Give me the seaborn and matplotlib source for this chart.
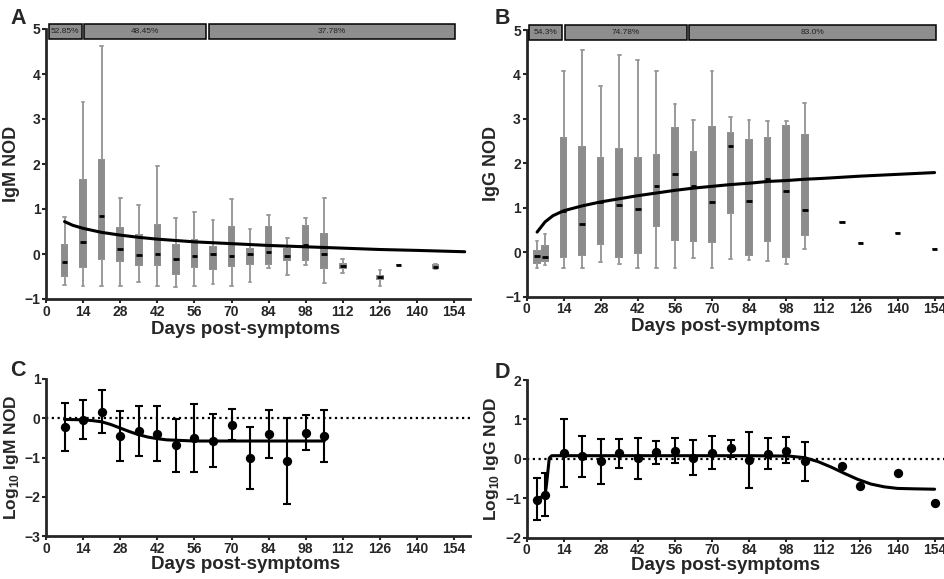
import numpy as np
import pandas as pd
import matplotlib
matplotlib.use("Agg")
import matplotlib.pyplot as plt
from matplotlib.patches import Rectangle
import seaborn as sns

# ---- data ----
# Panel A: IgM NOD five-number summaries per day
igm_days = [7, 14, 21, 28, 35, 42, 49, 56, 63, 70, 77, 84, 91, 98, 105, 112, 126, 133, 147]
igm_low = [-0.69, -0.71, -0.70, -0.71, -0.63, -0.71, -0.74, -0.72, -0.66, -0.72, -0.62, -0.31, -0.46, -0.24, -0.65, -0.43, -0.70, -0.25, -0.34]
igm_q1 = [-0.48, -0.28, -0.11, -0.15, -0.25, -0.25, -0.45, -0.29, -0.34, -0.27, -0.23, -0.22, -0.14, -0.13, -0.31, -0.30, -0.56, -0.25, -0.31]
igm_med = [-0.18, 0.26, 0.84, 0.11, -0.03, 0.01, -0.10, -0.04, -0.01, -0.05, 0.00, 0.04, -0.05, 0.20, -0.01, -0.26, -0.52, -0.25, -0.28]
igm_q3 = [0.19, 1.65, 2.08, 0.57, 0.42, 0.65, 0.19, 0.31, 0.15, 0.60, 0.12, 0.60, 0.12, 0.63, 0.44, -0.22, -0.48, -0.25, -0.25]
igm_high = [0.83, 3.37, 4.62, 1.24, 1.09, 1.96, 0.79, 0.93, 0.75, 1.22, 0.55, 0.86, 0.36, 0.81, 1.24, -0.10, -0.36, -0.25, -0.23]
igm_fit_days = [7, 10, 14, 21, 28, 35, 42, 49, 56, 63, 70, 84, 98, 112, 126, 140, 158]
igm_fit = [0.72, 0.64, 0.57, 0.48, 0.42, 0.37, 0.33, 0.30, 0.27, 0.25, 0.23, 0.19, 0.16, 0.13, 0.10, 0.08, 0.05]
igm_pct = ["52.85%", "48.45%", "37.78%"]

# Panel B: IgG NOD five-number summaries per day
igg_days = [4, 7, 14, 21, 28, 35, 42, 49, 56, 63, 70, 77, 84, 91, 98, 105, 119, 126, 140, 154]
igg_low = [-0.36, -0.28, -0.36, -0.36, -0.22, -0.26, -0.36, -0.36, -0.36, -0.13, -0.36, -0.16, -0.18, -0.21, -0.26, 0.07, 0.68, 0.21, 0.44, 0.08]
igg_q1 = [-0.25, -0.19, -0.11, -0.07, 0.19, -0.12, -0.02, 0.59, 0.28, 0.24, 0.22, 0.87, -0.06, 0.24, -0.10, 0.38, 0.68, 0.21, 0.44, 0.08]
igg_med = [-0.09, -0.11, 0.93, 0.64, 1.12, 1.06, 0.98, 1.48, 1.76, 1.49, 1.12, 2.39, 1.16, 1.65, 1.38, 0.95, 0.68, 0.21, 0.44, 0.08]
igg_q3 = [0.02, 0.14, 2.57, 2.37, 2.12, 2.31, 2.12, 2.18, 2.80, 2.25, 2.81, 2.67, 2.52, 2.56, 2.83, 2.64, 0.68, 0.21, 0.44, 0.08]
igg_high = [0.24, 0.40, 4.08, 4.56, 3.75, 4.43, 4.32, 4.08, 3.33, 2.97, 4.08, 3.05, 2.97, 2.94, 2.96, 3.36, 0.68, 0.21, 0.44, 0.08]
igg_fit_days = [4, 7, 10, 14, 21, 28, 35, 42, 49, 56, 63, 70, 77, 84, 91, 98, 105, 112, 126, 140, 154]
igg_fit = [0.45, 0.68, 0.82, 0.93, 1.04, 1.13, 1.20, 1.27, 1.33, 1.39, 1.44, 1.48, 1.52, 1.55, 1.59, 1.61, 1.64, 1.66, 1.71, 1.75, 1.79]
igg_pct = ["54.3%", "74.78%", "83.0%"]

# time windows of the percentage bars (days)
win_start = [1, 14.5, 61.5]
win_end = [13.5, 60.5, 154.5]

# Panel C: log10 IgM NOD mean with error range
c_days = [7, 14, 21, 28, 35, 42, 49, 56, 63, 70, 77, 84, 91, 98, 105]
c_mean = [-0.23, -0.04, 0.15, -0.46, -0.33, -0.39, -0.69, -0.50, -0.58, -0.16, -1.02, -0.41, -1.10, -0.37, -0.45]
c_upper = [0.38, 0.46, 0.71, 0.18, 0.31, 0.30, -0.01, 0.37, 0.12, 0.24, -0.22, 0.21, 0.00, 0.08, 0.21]
c_lower = [-0.83, -0.53, -0.37, -1.08, -0.95, -1.08, -1.36, -1.36, -1.25, -0.55, -1.80, -1.02, -2.19, -0.81, -1.11]
c_fit_days = [7, 14, 17.5, 21, 24.5, 28, 31.5, 35, 38.5, 42, 45.5, 49, 56, 70, 84, 105]
c_fit = [-0.03, -0.04, -0.06, -0.09, -0.16, -0.25, -0.34, -0.42, -0.48, -0.52, -0.55, -0.56, -0.58, -0.58, -0.58, -0.58]

# Panel D: log10 IgG NOD mean with error range
d_days = [4, 7, 14, 21, 28, 35, 42, 49, 56, 63, 70, 77, 84, 91, 98, 105]
d_mean = [-1.04, -0.92, 0.15, 0.08, -0.05, 0.14, 0.01, 0.17, 0.21, 0.03, 0.15, 0.28, -0.03, 0.12, 0.21, -0.05]
d_upper = [-0.49, -0.36, 1.00, 0.59, 0.51, 0.51, 0.53, 0.46, 0.53, 0.47, 0.57, 0.48, 0.68, 0.52, 0.55, 0.43]
d_lower = [-1.55, -1.46, -0.72, -0.45, -0.63, -0.24, -0.50, -0.14, -0.11, -0.41, -0.27, 0.04, -0.74, -0.27, -0.10, -0.57]
d_single_days = [119, 126, 140, 154]
d_single = [-0.17, -0.68, -0.37, -1.12]
d_fit_days = [4, 7, 7.6, 8.6, 9.5, 14, 28, 56, 84, 99, 105, 110, 115, 120, 125, 130, 135, 140, 146, 154]
d_fit = [-1.00, -0.94, -0.62, 0.02, 0.08, 0.08, 0.08, 0.08, 0.08, 0.07, 0.03, -0.07, -0.21, -0.37, -0.52, -0.64, -0.71, -0.75, -0.76, -0.77]

xticks = list(range(0, 155, 14))

# ---- style ----
sns.set_style("ticks")
plt.rcParams["font.family"] = ["Liberation Sans", "DejaVu Sans"]
plt.rcParams["font.weight"] = "bold"
plt.rcParams["mathtext.fontset"] = "custom"
plt.rcParams["mathtext.rm"] = "Liberation Sans:bold"
plt.rcParams["mathtext.bf"] = "Liberation Sans:bold"

BOX_GRAY = "#8c8c8c"
WHISK_GRAY = "#9a9a9a"

fig = plt.figure(figsize=(9.44, 5.79), dpi=100)
W, H = 944, 579
axA = fig.add_axes([46 / W, 1 - 299 / H, 424 / W, 270 / H])
axB = fig.add_axes([526.5 / W, 1 - 296.5 / H, 424 / W, 266.5 / H])
axC = fig.add_axes([46 / W, 1 - 536 / H, 424 / W, 157 / H])
axD = fig.add_axes([526.5 / W, 1 - 537.7 / H, 424 / W, 157.7 / H])


def five_num_frame(days, low, q1, med, q3, high):
    rows = []
    for i, d in enumerate(days):
        for v in (low[i], q1[i], med[i], q3[i], high[i]):
            rows.append({"day": d, "nod": v})
    return pd.DataFrame(rows)


def style_axis(ax, ylim, yticks):
    ax.set_xlim(0, 160)
    ax.set_ylim(*ylim)
    ax.set_xticks(xticks)
    ax.set_yticks(yticks)
    sns.despine(ax=ax)
    for s in ("left", "bottom"):
        ax.spines[s].set_linewidth(2)
    ax.tick_params(width=1.5, length=3, pad=1, labelsize=10)
    for lab in ax.get_xticklabels() + ax.get_yticklabels():
        lab.set_fontweight("bold")


def box_panel(ax, df, width, fit_x, fit_y, pcts, ylab):
    sns.boxplot(data=df, x="day", y="nod", native_scale=True, orient="x",
                whis=(0, 100), width=width, color=BOX_GRAY, saturation=1,
                linecolor=WHISK_GRAY, linewidth=1.4, fliersize=0, ax=ax,
                boxprops=dict(facecolor=BOX_GRAY, edgecolor=BOX_GRAY),
                medianprops=dict(color="black", linewidth=2))
    sns.lineplot(x=fit_x, y=fit_y, color="black", linewidth=2.2, ax=ax, zorder=5)
    for s, e, t in zip(win_start, win_end, pcts):
        ax.add_patch(Rectangle((s, 4.77), e - s, 0.34, facecolor="#8e8e8e",
                               edgecolor="black", linewidth=1.1, clip_on=False, zorder=6))
        ax.text((s + e) / 2, 4.94, t, ha="center", va="center", fontsize=6,
                fontweight="normal", color="#222222", zorder=7, clip_on=False)
    style_axis(ax, (-1, 5), range(-1, 6))
    ax.set_xlabel("Days post-symptoms", fontsize=13.5, fontweight="bold")
    ax.set_ylabel(ylab, fontsize=13, fontweight="bold")
    ax.yaxis.set_label_coords(-0.062, 0.5)
    ax.xaxis.set_label_coords(0.47, -0.08)


def mean_panel(ax, days, mean, upper, lower, fit_x, fit_y, ylim, yticks, ylab):
    ax.axhline(0, color="black", linestyle=(0, (1, 1.6)), linewidth=1.6, zorder=1)
    err = [np.array(mean) - np.array(lower), np.array(upper) - np.array(mean)]
    ax.errorbar(days, mean, yerr=err, fmt="none", ecolor="black",
                elinewidth=1.5, capsize=2.8, capthick=1.5, zorder=3)
    sns.scatterplot(x=days, y=mean, color="black", s=45, edgecolor="black",
                    linewidth=0, ax=ax, zorder=4)
    sns.lineplot(x=fit_x, y=fit_y, color="black", linewidth=2.2, ax=ax, zorder=5)
    style_axis(ax, ylim, yticks)
    ax.set_xlabel("Days post-symptoms", fontsize=13.5, fontweight="bold")
    ax.set_ylabel(ylab, fontsize=12.5, fontweight="bold")
    ax.yaxis.set_label_coords(-0.06, 0.5)
    ax.xaxis.set_label_coords(0.47, -0.125)


dfA = five_num_frame(igm_days, igm_low, igm_q1, igm_med, igm_q3, igm_high)
dfB = five_num_frame(igg_days, igg_low, igg_q1, igg_med, igg_q3, igg_high)

box_panel(axA, dfA, 0.3, igm_fit_days, igm_fit, igm_pct, "IgM NOD")
box_panel(axB, dfB, 0.7, igg_fit_days, igg_fit, igg_pct, "IgG NOD")

mean_panel(axC, c_days, c_mean, c_upper, c_lower, c_fit_days, c_fit,
           (-3, 1), range(-3, 2), r"Log$_{10}$ IgM NOD")
mean_panel(axD, d_days, d_mean, d_upper, d_lower, d_fit_days, d_fit,
           (-2, 2), range(-2, 3), r"Log$_{10}$ IgG NOD")
sns.scatterplot(x=d_single_days, y=d_single, color="black", s=45, linewidth=0,
                ax=axD, zorder=4)

for lab, (x, y) in zip("ABCD", [(18, 18), (502, 18), (18, 370), (502, 372)]):
    fig.text(x / W, 1 - y / H, lab, fontsize=15.5, fontweight="bold",
             ha="center", va="center")

fig.savefig("out.png", dpi=100)
